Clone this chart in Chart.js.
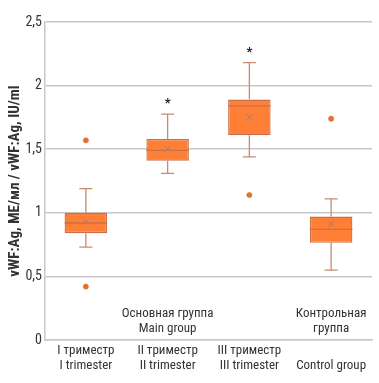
<!DOCTYPE html>
<html>
<head>
<meta charset="utf-8">
<script src="https://cdn.jsdelivr.net/npm/chart.js@4/dist/chart.umd.min.js"></script>
<style>
html,body{margin:0;padding:0;background:#fff;}
#wrap{width:379px;height:383px;position:relative;}
</style>
</head>
<body>
<div id="wrap"><canvas id="c" width="379" height="383"></canvas></div>
<script>
// ---- data ----
const categories = [['I триместр','I trimester'], ['II триместр','II trimester'], ['III триместр','III trimester'], ['','Control group']];
const groupLabels = [['Основная группа','Main group'], ['Контрольная','группа']];
const groupLabelAt = [1, 3];
const whiskerMin = [0.73, 1.31, 1.44, 0.55];
const q1 = [0.84, 1.41, 1.61, 0.765];
const median = [0.92, 1.49, 1.84, 0.87];
const q3 = [1.00, 1.58, 1.89, 0.97];
const whiskerMax = [1.19, 1.775, 2.18, 1.11];
const means = [0.93, 1.50, 1.75, 0.915];
const outliersHigh = [1.57, null, 1.14, 1.74];
const outliersLow = [0.42, null, null, null];
const significance = ['', '*', '*', ''];
const yTicks = [0, 0.5, 1, 1.5, 2, 2.5];
const yTitle = 'vWF:Ag, ME/мл / vWF:Ag, IU/ml';

const FONT = "'Liberation Sans Narrow','Roboto Condensed','DejaVu Sans Condensed',Roboto,sans-serif";
const BOX_FILL = '#FF7F36';
const BOX_BORDER = '#C7714A';
const WHISKER = '#C98A6E';
const MEAN_C = '#B8765A';

const boxPlugin = {
  id: 'boxExtras',
  afterDatasetsDraw(chart) {
    const ctx = chart.ctx;
    const ys = chart.scales.y;
    const xs = chart.scales.x;
    const meta = chart.getDatasetMeta(0);
    meta.data.forEach((bar, i) => {
      const x = bar.x;
      const half = bar.width / 2;
      const cap = 6.5;
      ctx.save();
      ctx.strokeStyle = WHISKER;
      ctx.lineWidth = 1.3;
      ctx.beginPath();
      ctx.moveTo(x, ys.getPixelForValue(q3[i]));
      ctx.lineTo(x, ys.getPixelForValue(whiskerMax[i]));
      ctx.moveTo(x, ys.getPixelForValue(q1[i]));
      ctx.lineTo(x, ys.getPixelForValue(whiskerMin[i]));
      ctx.moveTo(x - cap, ys.getPixelForValue(whiskerMax[i]));
      ctx.lineTo(x + cap, ys.getPixelForValue(whiskerMax[i]));
      ctx.moveTo(x - cap, ys.getPixelForValue(whiskerMin[i]));
      ctx.lineTo(x + cap, ys.getPixelForValue(whiskerMin[i]));
      ctx.stroke();
      // median
      ctx.strokeStyle = BOX_BORDER;
      ctx.lineWidth = 1.3;
      ctx.beginPath();
      const my = ys.getPixelForValue(median[i]);
      ctx.moveTo(x - half, my);
      ctx.lineTo(x + half, my);
      ctx.stroke();
      // mean x
      const mny = ys.getPixelForValue(means[i]);
      ctx.strokeStyle = MEAN_C;
      ctx.lineWidth = 1;
      ctx.beginPath();
      ctx.moveTo(x - 3, mny - 3); ctx.lineTo(x + 3, mny + 3);
      ctx.moveTo(x + 3, mny - 3); ctx.lineTo(x - 3, mny + 3);
      ctx.stroke();
      // significance
      if (significance[i]) {
        ctx.fillStyle = '#1a1a2e';
        ctx.font = 'bold 13px ' + FONT;
        ctx.textAlign = 'center';
        ctx.textBaseline = 'middle';
        ctx.fillText(significance[i], x, ys.getPixelForValue(whiskerMax[i]) - 10);
      }
      ctx.restore();
    });
    // group labels
    ctx.save();
    ctx.fillStyle = '#333333';
    ctx.font = '13px ' + FONT;
    ctx.textAlign = 'center';
    ctx.textBaseline = 'middle';
    groupLabels.forEach((lines, k) => {
      const x = xs.getPixelForValue(groupLabelAt[k]);
      const base = ys.getPixelForValue(0);
      ctx.fillText(lines[0], x, base - 26);
      ctx.fillText(lines[1], x, base - 11);
    });
    ctx.restore();
  }
};

const outlierStyle = {
  type: 'line',
  showLine: false,
  pointRadius: 2.6,
  pointBackgroundColor: '#E8702E',
  pointBorderColor: '#D8692E',
  pointBorderWidth: 0.5,
  order: 1
};

new Chart(document.getElementById('c'), {
  data: {
    labels: categories,
    datasets: [
      {
        type: 'bar',
        data: q1.map((v, i) => [v, q3[i]]),
        backgroundColor: BOX_FILL,
        borderColor: BOX_BORDER,
        borderWidth: 1.3,
        borderSkipped: false,
        categoryPercentage: 1,
        barPercentage: 0.52,
        order: 2
      },
      Object.assign({data: outliersHigh}, outlierStyle),
      Object.assign({data: outliersLow}, outlierStyle)
    ]
  },
  options: {
    responsive: false,
    animation: false,
    devicePixelRatio: 1,
    layout: {padding: {top: 22, right: 7, left: 0, bottom: 0}},
    plugins: {legend: {display: false}, tooltip: {enabled: false}},
    scales: {
      x: {
        type: 'category',
        offset: true,
        grid: {display: false, drawTicks: false},
        border: {color: '#c8c8c8', width: 1.5},
        ticks: {
          color: '#333333',
          font: {family: FONT, size: 13, lineHeight: 1.15},
          padding: 3,
          maxRotation: 0,
          autoSkip: false
        },
        afterFit(s) { s.height = 43; }
      },
      y: {
        min: 0, max: 2.5,
        afterBuildTicks(s) { s.ticks = yTicks.map(v => ({value: v})); },
        grid: {color: '#c8c8c8', lineWidth: 1.5, drawTicks: false},
        border: {color: '#c8c8c8', width: 1.5},
        ticks: {
          color: '#333333',
          font: {family: FONT, size: 14},
          padding: 3,
          callback: v => String(v).replace('.', ',')
        },
        title: {
          display: true,
          text: yTitle,
          color: '#333333',
          font: {family: FONT, size: 15, weight: 'bold'},
          padding: {top: 6, bottom: 3}
        },
        afterFit(s) { s.width = 45; }
      }
    }
  },
  plugins: [boxPlugin]
});
</script>
</body>
</html>
